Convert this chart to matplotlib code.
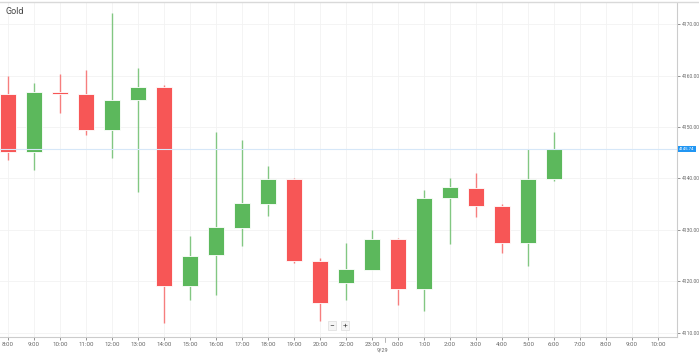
import matplotlib
matplotlib.use("Agg")
import matplotlib.pyplot as plt
import numpy as np

plt.rcParams['font.family'] = ['Roboto', 'DejaVu Sans']

# hourly candles (OHLC)
hours = ["8:00", "9:00", "10:00", "11:00", "12:00", "13:00", "14:00", "15:00",
         "16:00", "17:00", "18:00", "19:00", "20:00", "22:00", "23:00", "0:00",
         "1:00", "2:00", "3:00", "4:00", "5:00", "6:00"]
empty_hours = ["7:00", "8:00", "9:00", "10:00"]
opens = [4156.35, 4145.2, 4156.8, 4156.35, 4149.48, 4155.18, 4157.83, 4119.19,
         4125.15, 4130.39, 4135.1, 4139.9, 4123.98, 4119.71, 4122.3, 4128.25,
         4118.6, 4136.27, 4138.21, 4134.72, 4127.53, 4139.84]
highs = [4159.96, 4158.55, 4160.23, 4161.13, 4172.08, 4161.46, 4158.16, 4128.83,
         4149.03, 4147.48, 4142.49, 4140.0, 4124.56, 4127.42, 4129.94, 4128.35,
         4137.77, 4140.1, 4141.13, 4135.05, 4145.67, 4149.03]
lows = [4143.6, 4141.65, 4152.66, 4148.5, 4144.04, 4137.38, 4111.88, 4116.41,
        4117.44, 4126.95, 4132.78, 4123.53, 4112.33, 4116.35, 4122.23, 4115.44,
        4114.27, 4127.34, 4132.52, 4125.59, 4123.07, 4139.57]
closes = [4145.2, 4156.8, 4156.35, 4149.48, 4155.18, 4157.83, 4119.13, 4125.01,
          4130.64, 4135.24, 4139.9, 4123.98, 4115.77, 4122.43, 4128.25, 4118.6,
          4136.21, 4138.41, 4134.6, 4127.53, 4139.9, 4145.74]
price_ticks = [4110, 4120, 4130, 4140, 4150, 4160, 4170]
last_price = 4145.74
day_label = "9/29"

up_color = "#5cb85c"
down_color = "#f75656"

fig = plt.figure(figsize=(6.99, 3.53), dpi=100)
ax = fig.add_axes([0, 16 / 353, 677 / 699, 334 / 353])

x = np.arange(len(hours))
o = np.array(opens)
c = np.array(closes)
colors = [up_color if cc >= oo else down_color for oo, cc in zip(o, c)]

# wicks then bodies
ax.vlines(x, lows, highs, colors=colors, linewidth=1, alpha=0.75, zorder=2)
bottom = np.minimum(o, c)
height = np.maximum(np.abs(c - o), 0.3)
ax.bar(x, height, bottom=bottom, width=0.65, color=colors,
       edgecolor="white", linewidth=0.6, zorder=3)

# current price line + label
ax.axhline(last_price, color="#d6e7f8", linewidth=0.8, zorder=4)
ax.text(1.003, last_price, f"{last_price:.2f}", transform=ax.get_yaxis_transform(),
        fontsize=3.1, color="white", va="center", ha="left", zorder=5, clip_on=False,
        bbox=dict(boxstyle="square,pad=0.3", fc="#2196f3", ec="none"))

all_labels = hours + empty_hours
ax.set_xticks(np.arange(len(all_labels)))
ax.set_xticklabels(all_labels)
ax.set_xlim(-0.308, 25.73)
ax.set_ylim(4109.22, 4174.08)
ax.set_yticks(price_ticks)
ax.set_yticklabels([f"{p:.2f}" for p in price_ticks])

ax.yaxis.tick_right()
ax.tick_params(axis="x", labelsize=4.4, colors="#666666", length=2, width=0.5, pad=1.5)
ax.tick_params(axis="y", labelsize=3.6, colors="#666666", length=2, width=0.5, pad=1.5)

ax.grid(True, color="#f2f2f2", linewidth=0.6, zorder=0)
ax.set_axisbelow(True)
for side in ["top", "left"]:
    ax.spines[side].set_visible(False)
for side in ["right", "bottom"]:
    ax.spines[side].set_color("#cccccc")
    ax.spines[side].set_linewidth(0.8)

# top border
fig.add_artist(plt.Line2D([0, 1], [1 - 1.5 / 353, 1 - 1.5 / 353], color="#d9d9d9", linewidth=1))

# day divider under the axis
ax.plot([14.5, 14.5], [0, -0.015], transform=ax.get_xaxis_transform(),
        color="#999999", linewidth=0.5, clip_on=False)
ax.text(14.4, -0.032, day_label, transform=ax.get_xaxis_transform(),
        fontsize=4.0, color="#666666", ha="center", va="top")

# title
fig.text(5 / 699, 1 - 11 / 353, "Gold", fontsize=6.5, color="#444444", va="center", ha="left")

# zoom buttons
for xi, s in [(12.45, "\u2212"), (12.95, "+")]:
    ax.text(xi, 0.035, s, transform=ax.get_xaxis_transform(), fontsize=6,
            color="#444444", ha="center", va="center", zorder=6,
            bbox=dict(boxstyle="square,pad=0.2", fc="#f5f5f5", ec="#dddddd", lw=0.5))

fig.savefig("out.png", dpi=100)
